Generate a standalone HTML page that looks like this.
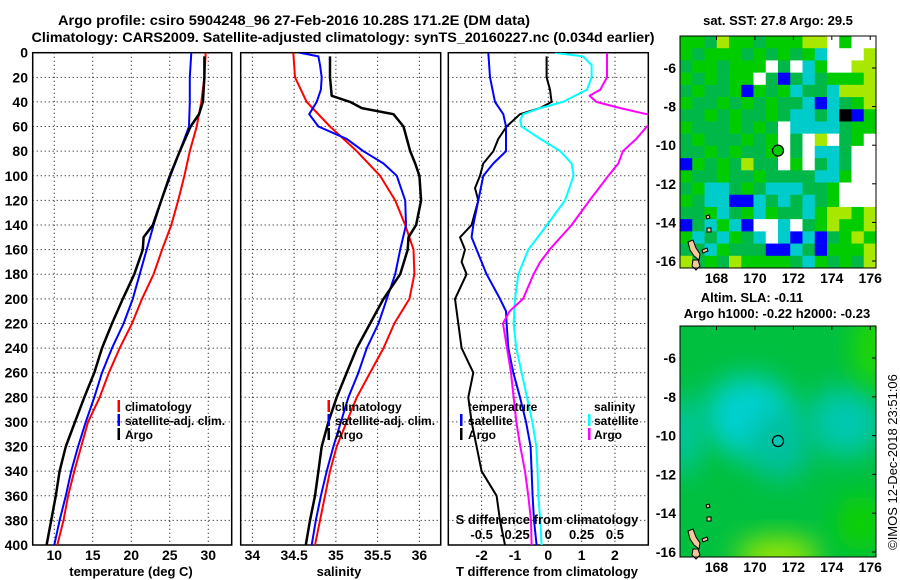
<!DOCTYPE html>
<html>
<head>
<meta charset="utf-8">
<style>
html,body{margin:0;padding:0;background:#fff;}
svg{display:block;font-family:"Liberation Sans",sans-serif;font-weight:bold;}
</style>
</head>
<body>
<svg id="fig" width="900" height="580" viewBox="0 0 900 580">
  <defs>
    <clipPath id="clipP1"><rect x="32.7" y="52.7" width="199" height="492.3"/></clipPath>
    <clipPath id="clipP2"><rect x="240.7" y="52.7" width="200" height="492.3"/></clipPath>
    <clipPath id="clipP3"><rect x="448.3" y="52.7" width="200" height="492.3"/></clipPath>
    <clipPath id="clipM2"><rect x="680" y="326" width="196" height="231"/></clipPath>
    <filter id="blur12" x="-50%" y="-50%" width="200%" height="200%"><feGaussianBlur stdDeviation="14"/></filter>
  </defs>
  <text x="294" y="25" font-size="14" text-anchor="middle" textLength="472" lengthAdjust="spacingAndGlyphs">Argo profile: csiro 5904248_96 27-Feb-2016 10.28S 171.2E (DM data)</text>
  <text x="343" y="42" font-size="14" text-anchor="middle" textLength="623" lengthAdjust="spacingAndGlyphs">Climatology: CARS2009. Satellite-adjusted climatology: synTS_20160227.nc (0.034d earlier)</text>

  <g id="p1"></g>
  <g id="p2"></g>
  <g id="p3"></g>

  <text x="131" y="576" font-size="13" text-anchor="middle">temperature (deg C)</text>
  <text x="339" y="576" font-size="13" text-anchor="middle">salinity</text>
  <text x="547" y="576" font-size="13" text-anchor="middle">T difference from climatology</text>
  <text x="547" y="524" font-size="13" text-anchor="middle">S difference from climatology</text>

  <g>
    <rect x="117.5" y="400" width="2.5" height="12" fill="#f00"/>
    <text x="125" y="411" font-size="12">climatology</text>
    <rect x="117.5" y="414" width="2.5" height="12" fill="#00f"/>
    <text x="125" y="425" font-size="12">satellite-adj. clim.</text>
    <rect x="117.5" y="428" width="2.5" height="12" fill="#000"/>
    <text x="125" y="439" font-size="12">Argo</text>
  </g>
  <g>
    <rect x="327.5" y="400" width="2.5" height="12" fill="#f00"/>
    <text x="335" y="411" font-size="12">climatology</text>
    <rect x="327.5" y="414" width="2.5" height="12" fill="#00f"/>
    <text x="335" y="425" font-size="12">satellite-adj. clim.</text>
    <rect x="327.5" y="428" width="2.5" height="12" fill="#000"/>
    <text x="335" y="439" font-size="12">Argo</text>
  </g>
  <g>
    <text x="468" y="411" font-size="12">temperature</text>
    <rect x="460" y="414" width="2.5" height="12" fill="#00f"/>
    <text x="468" y="425" font-size="12">satellite</text>
    <rect x="460" y="428" width="2.5" height="12" fill="#000"/>
    <text x="468" y="439" font-size="12">Argo</text>
    <text x="594" y="411" font-size="12">salinity</text>
    <rect x="588" y="414" width="2.5" height="12" fill="#0ff"/>
    <text x="594" y="425" font-size="12">satellite</text>
    <rect x="588" y="428" width="2.5" height="12" fill="#f0f"/>
    <text x="594" y="439" font-size="12">Argo</text>
  </g>

  <text x="778" y="25" font-size="13" text-anchor="middle">sat. SST: 27.8 Argo: 29.5</text>
  <g id="m1"></g>
  <text x="752" y="302" font-size="13" text-anchor="middle">Altim. SLA: -0.11</text>
  <text x="777" y="318" font-size="13" text-anchor="middle">Argo h1000: -0.22 h2000: -0.23</text>
  <g id="m2"></g>
  <text x="0" y="0" font-size="13" font-weight="normal" text-anchor="middle" transform="translate(897,462) rotate(-90)">©IMOS 12-Dec-2018 23:51:06</text>
</svg>
<script>
// ---------- data ----------
const depthTicks = [0,20,40,60,80,100,120,140,160,180,200,220,240,260,280,300,320,340,360,380,400];
const tempTicks = [10,15,20,25,30];
const salTicks = [34,34.5,35,35.5,36];
const salTickLabels = ["34","34.5","35","35.5","36"];
const tdiffTicks = [-2,-1,0,1,2];
const sdiffTicks = [-0.5,-0.25,0,0.25,0.5];
const sdiffTickLabels = ["-0.5","-0.25","0","0.25","0.5"];

const stdDepths = [0,20,40,60,80,100,120,140,160,180,200,220,240,260,280,300,320,340,360,380,400];
const tempClim = [29.67,29.5,29.1,28.5,27.6,26.9,26.1,25.2,24.0,22.9,21.4,20.1,18.5,17.1,15.9,14.4,13.5,12.6,11.8,11.2,10.4];
const tempSat = [27.8,27.6,27.6,27.5,26.3,25.1,23.9,22.9,22.0,21.1,20.2,19.0,17.5,16.2,15.2,14.1,13.1,12.2,11.5,10.7,10.0];
const argoTDepths = [3,20,40,50,60,80,100,120,140,150,160,180,200,220,240,260,280,300,320,340,360,380,400];
const tempArgo = [29.5,29.5,29.3,28.8,27.7,26.3,25.0,23.9,22.8,21.6,21.5,20.4,18.9,17.5,16.2,15.2,13.9,12.7,11.5,10.7,10.2,9.6,9.0];

const salClim = [34.49,34.51,34.65,34.93,35.25,35.53,35.71,35.83,35.93,35.94,35.88,35.70,35.57,35.41,35.25,35.13,35.01,34.93,34.87,34.81,34.75];
const satSDepths = [0,3,10,20,30,40,50,60,70,80,90,100,120,140,160,180,200,220,240,260,280,300,320,340,360,380,400];
const salSat = [34.56,34.79,34.81,34.83,34.82,34.77,34.68,34.79,35.13,35.33,35.57,35.73,35.83,35.84,35.77,35.71,35.61,35.51,35.37,35.27,35.15,35.06,34.97,34.89,34.82,34.76,34.71];
const argoSDepths = [3,20,35,40,45,50,60,80,90,100,120,140,150,160,180,200,220,240,260,280,300,320,340,360,380,400];
const salArgo = [34.93,34.93,34.95,35.17,35.31,35.69,35.81,35.89,35.95,36.00,36.02,35.96,35.87,35.86,35.77,35.57,35.41,35.25,35.13,35.01,34.91,34.83,34.79,34.75,34.69,34.64];

const tdSatDepths = [0,20,40,50,60,80,90,100,120,140,150,160,180,200,210,220,240,260,280,300,320,340,360,380,400];
const tdiffSat = [-1.80,-1.75,-1.60,-1.35,-1.27,-1.27,-1.65,-1.95,-2.10,-2.25,-2.30,-2.15,-1.85,-1.45,-1.27,-1.25,-1.20,-1.05,-0.85,-0.67,-0.53,-0.50,-0.47,-0.43,-0.35];
const tdArgoDepths = [3,20,30,40,45,50,60,70,80,90,100,110,120,140,150,160,170,180,200,220,240,260,280,300,320,340,360,380,400];
const tdiffArgo = [-0.05,-0.05,0.05,0.10,-0.25,-0.85,-1.25,-1.50,-1.65,-1.95,-2.05,-2.20,-2.10,-2.30,-2.65,-2.50,-2.60,-2.45,-2.80,-2.70,-2.60,-2.25,-2.40,-2.30,-2.15,-2.00,-1.55,-1.45,-1.30];
const sdSatDepths = [0,3,10,20,30,40,45,50,55,60,70,80,90,100,120,140,160,180,200,220,240,260,280,300,320,340,360,380,400];
const sdiffSat = [0.05,0.26,0.325,0.325,0.29,0.11,-0.06,-0.19,-0.21,-0.20,-0.06,0.09,0.175,0.19,0.125,-0.01,-0.15,-0.225,-0.25,-0.26,-0.24,-0.20,-0.16,-0.12,-0.09,-0.08,-0.075,-0.06,-0.05];
const sdArgoDepths = [0,20,30,35,40,45,50,53,58,60,70,80,90,100,120,140,160,170,180,200,210,220,240,260,280,300,320,340,360,380,400];
const sdiffArgo = [0.44,0.44,0.39,0.31,0.36,0.54,0.74,0.85,0.85,0.74,0.66,0.56,0.525,0.45,0.31,0.175,0.01,-0.06,-0.11,-0.19,-0.29,-0.34,-0.31,-0.28,-0.26,-0.24,-0.21,-0.175,-0.15,-0.13,-0.125];

const latTicks = [-6,-8,-10,-12,-14,-16];
const lonTicks = [168,170,172,174,176];
const argoLon = 171.2, argoLat = -10.28;
// SST map coarse colour grid (g green, d dark green, c cyan, w no data, y yellow-green, b blue, k black)
const sstGrid = [
 "ggdyggdgggyywgww",
 "gdgggdgdgdgcwwwy",
 "dggdgggwdwcgwwyy",
 "gdgdggwdbdcdgggy",
 "dgddgbgdgcddcyyy",
 "gddgdgdgddcbcdgy",
 "ddgdgddgdccdckbg",
 "gdddgdgdwccccdgg",
 "dgdddgdgwdwywdgw",
 "ddgdgddgwdwccdww",
 "bgdgdyddwgwdcdww",
 "gddgddgddddccgww",
 "dgccdgdcccddgwww",
 "gdccbbcdcdcdgwww",
 "ddgcdgcgddcgyygy",
 "bdcgcbwwcwdgyggy",
 "gcdcgdcwcbcbdgyg",
 "ddcgdddbbcdbgggy",
 "ydgdyggggdcgdgdy"
];
const sstColors = {g:"#00cc00",d:"#00b848",c:"#00cccc",w:"#ffffff",y:"#a8e800",b:"#0000ff",k:"#000000"};

// ---------- axes ----------
const Y0 = 52.7, Y1 = 545;
function yD(d){ return Y0 + d*(Y1-Y0)/400; }
function xT(v){ return 32.7 + (v-7.2)*7.7; }
function xS(v){ return 240.7 + (v-33.86)*83.5; }
function xTD(v){ return 448.3 + (v+3)*33.33; }
function xSD(v){ return xTD(v*4); }
function mLon(lon){ return 680 + (lon-166.1)*196/10.2; }
function mLat1(lat){ return 68 + (-6-lat)*19.3; }
function mLat2(lat){ return 358 + (-6-lat)*19.4; }

const NS = "http://www.w3.org/2000/svg";
function mk(tag, attrs, parent){
  const e = document.createElementNS(NS, tag);
  for (const k in attrs) e.setAttribute(k, attrs[k]);
  parent.appendChild(e);
  return e;
}

function panel(g, x0, x1, gridVals, xf, tickLabels, clipId){
  for (const v of gridVals){
    const gl = mk("line",{x1:xf(v),x2:xf(v),y1:Y0,y2:Y1,stroke:"#000","stroke-width":1,"stroke-dasharray":"1,3"},g);
    
    
  }
  for (const d of depthTicks){
    if (d===0||d===400) continue;
    const gl = mk("line",{x1:x0,x2:x1,y1:yD(d),y2:yD(d),stroke:"#000","stroke-width":1,"stroke-dasharray":"1,3"},g);
    
    
  }
  gridVals.forEach((v,i)=>{
    const t = mk("text",{x:xf(v),y:560,"font-size":14,"text-anchor":"middle"},g);
    t.textContent = tickLabels[i];
    
    
  });
  const fr = mk("rect",{x:x0,y:Y0,width:x1-x0,height:Y1-Y0,fill:"none",stroke:"#000","stroke-width":1.5},g);
  
  
}
function series(g, depths, vals, xf, color, w, clipId, name){
  const pts = depths.map((d,i)=> xf(vals[i]).toFixed(1)+","+yD(d).toFixed(1)).join(" ");
  const p = mk("polyline",{points:pts,fill:"none",stroke:color,"stroke-width":w,"stroke-linejoin":"round","clip-path":"url(#"+clipId+")"},g);
  
  
}

const p1 = document.getElementById("p1"), p2 = document.getElementById("p2"), p3 = document.getElementById("p3");
panel(p1, 32.7, 231.7, tempTicks, xT, tempTicks.map(String), "clipP1");
panel(p2, 240.7, 440.7, salTicks, xS, salTickLabels, "clipP2");
panel(p3, 448.3, 648.3, tdiffTicks, xTD, tdiffTicks.map(String), "clipP3");

for (const d of depthTicks){
  const t = mk("text",{x:28,y:yD(d)+5,"font-size":14,"text-anchor":"end"},p1);
  t.textContent = String(d);
  
  
}
sdiffTicks.forEach((v,i)=>{
  const t = mk("text",{x:xSD(v),y:539,"font-size":13,"text-anchor":"middle"},p3);
  t.textContent = sdiffTickLabels[i];
  
  
});

series(p1, stdDepths, tempClim, xT, "#f00", 2, "clipP1", "temperature-climatology-line");
series(p1, stdDepths, tempSat, xT, "#00f", 2, "clipP1", "temperature-satellite-line");
series(p1, argoTDepths, tempArgo, xT, "#000", 2.5, "clipP1", "temperature-argo-line");
series(p2, stdDepths, salClim, xS, "#f00", 2, "clipP2", "salinity-climatology-line");
series(p2, satSDepths, salSat, xS, "#00f", 2, "clipP2", "salinity-satellite-line");
series(p2, argoSDepths, salArgo, xS, "#000", 2.5, "clipP2", "salinity-argo-line");
series(p3, tdArgoDepths, tdiffArgo, xTD, "#000", 2, "clipP3", "t-diff-argo-line");
series(p3, tdSatDepths, tdiffSat, xTD, "#00f", 2, "clipP3", "t-diff-satellite-line");
series(p3, sdSatDepths, sdiffSat, xSD, "#0ff", 2, "clipP3", "s-diff-satellite-line");
series(p3, sdArgoDepths, sdiffArgo, xSD, "#f0f", 2, "clipP3", "s-diff-argo-line");

// ---------- maps ----------
function mapAxes(g, y0, y1, latf, lonLabelY){
  for (const la of latTicks){
    const t = mk("text",{x:676,y:latf(la)+5,"font-size":14,"text-anchor":"end"},g);
    t.textContent = String(la);
    
    
    const tk = mk("line",{x1:872,x2:876,y1:latf(la),y2:latf(la),stroke:"#000","stroke-width":1},g);
    
    
  }
  for (const lo of lonTicks){
    const t = mk("text",{x:mLon(lo),y:lonLabelY,"font-size":14,"text-anchor":"middle"},g);
    t.textContent = String(lo);
    
    
    const tk = mk("line",{x1:mLon(lo),x2:mLon(lo),y1:y0,y2:y0+4,stroke:"#000","stroke-width":1},g);
    
    
  }
  const fr = mk("rect",{x:680,y:y0,width:196,height:y1-y0,fill:"none",stroke:"#000","stroke-width":1},g);
  
  
}
function land(g, y){
  const shapes = [
    "M688,"+(y-26)+" l5,-2 l3,8 l4,6 l-1,6 l-5,-4 l-4,-6 z",
    "M693,"+(y-8)+" l5,0 l2,6 l-4,4 l-4,-4 z",
    "M702,"+(y-18)+" l5,-2 l1,3 l-5,2 z",
    "M707,"+(y-40)+" l4,0 l0,4 l-4,0 z",
    "M706,"+(y-52)+" l3,-1 l1,3 l-3,1 z"
  ];
  for (const d of shapes){
    const p = mk("path",{d:d,fill:"#f5c89a",stroke:"#000","stroke-width":1},g);
    
    
  }
}

const m1 = document.getElementById("m1");
const cw = 196/16, ch = 232/19;
sstGrid.forEach((row,r)=>{
  for (let c=0;c<row.length;c++){
    const cell = mk("rect",{x:(680+c*cw).toFixed(2),y:(36+r*ch).toFixed(2),width:(cw+0.3).toFixed(2),height:(ch+0.3).toFixed(2),fill:sstColors[row[c]]},m1);
    
    
  }
});
land(m1, 268);
const mk1 = mk("circle",{cx:mLon(argoLon),cy:mLat1(argoLat),r:5.5,fill:"#00cc00",stroke:"#000","stroke-width":1.2},m1);


mapAxes(m1, 36, 268, mLat1, 283);

const m2 = document.getElementById("m2");
const bg = mk("rect",{x:680,y:326,width:196,height:231,fill:"#00c040"},m2);


const blobs = mk("g",{"clip-path":"url(#clipM2)"},m2);


const blobDefs = [
  {lon:169.7,lat:-9.0,rx:45,ry:40,c:"#00d0d0"},
  {lon:174.7,lat:-9.3,rx:38,ry:35,c:"#00c8b0"},
  {lon:171.3,lat:-10.5,rx:30,ry:35,c:"#00c0a0"},
  {lon:166.3,lat:-10,rx:14,ry:40,c:"#00c8b8"},
  {lon:171.2,lat:-16.2,rx:42,ry:18,c:"#a0e800"},
  {lon:176.2,lat:-5.5,rx:20,ry:40,c:"#20d800"},
  {lon:175.5,lat:-14.5,rx:25,ry:28,c:"#10d000"}
];
blobDefs.forEach(b=>{
  const e = mk("ellipse",{cx:mLon(b.lon),cy:mLat2(b.lat),rx:b.rx,ry:b.ry,fill:b.c,filter:"url(#blur12)"},blobs);
  
  
});
land(m2, 557);
const mk2 = mk("circle",{cx:mLon(argoLon),cy:mLat2(argoLat),r:5.5,fill:"#00c8b0",stroke:"#000","stroke-width":1.2},m2);


mapAxes(m2, 326, 557, mLat2, 572);
</script>
</body>
</html>
